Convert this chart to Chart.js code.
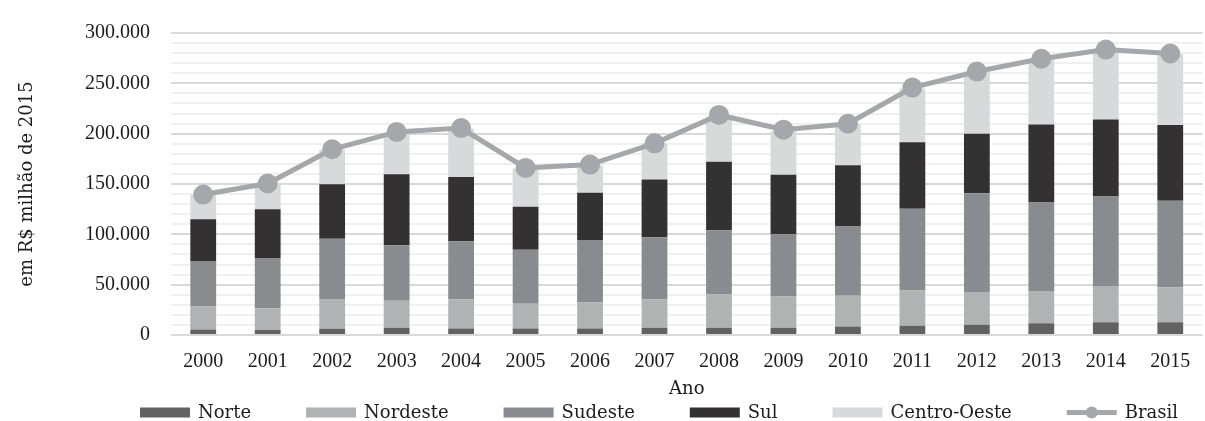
<!DOCTYPE html>
<html lang="pt-BR">
<head>
<meta charset="utf-8">
<title>Valor por região, 2000–2015</title>
<script src="https://cdn.jsdelivr.net/npm/chart.js@4"></script>
<style>
  html, body { margin: 0; padding: 0; background: #ffffff; overflow: hidden; }
  #wrap { position: relative; width: 1215px; height: 421px; }
</style>
</head>
<body>
<div id="wrap"><canvas id="chart"></canvas></div>
<script>
// Anos (eixo X)
const anos = ['2000','2001','2002','2003','2004','2005','2006','2007',
              '2008','2009','2010','2011','2012','2013','2014','2015'];

// Valores por região, em R$ milhão de 2015
const norte       = [5500, 4900, 6200, 7100, 6500, 6500, 6500, 7100, 7100, 7100, 8400, 9100, 10100, 11700, 12600, 12600];
const nordeste    = [22700, 21700, 29500, 27000, 28900, 24600, 25900, 28300, 33100, 31200, 30500, 35000, 32700, 32100, 36000, 34800];
const sudeste     = [45400, 49900, 60000, 55100, 57700, 53600, 62000, 61600, 63900, 61900, 68800, 81400, 98000, 87900, 88900, 85900];
const sul         = [41500, 48400, 54100, 70400, 63900, 42800, 47000, 57400, 68100, 59000, 61000, 65900, 59000, 77500, 76600, 75300];
const centroOeste = [24000, 24900, 34100, 40500, 48000, 37900, 26900, 36000, 45100, 43200, 40800, 53500, 61900, 65500, 68700, 70300];
const brasil      = [139500, 150500, 184500, 201700, 205600, 166000, 169300, 190400, 218600, 204000, 209800, 245800, 261700, 274400, 283500, 279600];

// Eixo Y: escala, passo das linhas auxiliares e rótulos principais
const yMax = 300000;
const yMinorStep = 10000;
const yMajorStep = 50000;

const fmt = v => String(v).replace(/\B(?=(\d{3})+(?!\d))/g, '.');

const TXT = '#1c1c1c';
const WORD_FONT = 'DejaVu Serif';
const NUM_FONT = 'Liberation Serif';

// Legenda desenhada sob o gráfico, com caixas largas e o marcador da linha
const bottomLegend = {
  id: 'bottomLegend',
  afterDraw(chart, args, o) {
    const ctx = chart.ctx;
    ctx.save();
    ctx.font = o.fontSize + 'px "' + o.fontFamily + '"';
    ctx.textBaseline = 'alphabetic';
    ctx.textAlign = 'left';
    let x = o.x;
    chart.data.datasets.forEach(ds => {
      if (ds.type === 'line') {
        ctx.strokeStyle = ds.borderColor;
        ctx.lineWidth = 5;
        ctx.beginPath();
        ctx.moveTo(x, o.markY);
        ctx.lineTo(x + o.boxW, o.markY);
        ctx.stroke();
        ctx.fillStyle = ds.pointBackgroundColor;
        ctx.beginPath();
        ctx.arc(x + o.boxW / 2, o.markY, 6, 0, Math.PI * 2);
        ctx.fill();
      } else {
        ctx.fillStyle = ds.backgroundColor;
        ctx.fillRect(x, o.markY - o.boxH / 2, o.boxW, o.boxH);
      }
      ctx.fillStyle = o.color;
      const tx = x + o.boxW + o.textGap;
      ctx.fillText(ds.label, tx, o.textY);
      x = tx + ctx.measureText(ds.label).width + o.itemGap;
    });
    ctx.restore();
  }
};

const ctx = document.getElementById('chart').getContext('2d');
new Chart(ctx, {
  data: {
    labels: anos,
    datasets: [
      { type: 'bar', label: 'Norte',        data: norte,       backgroundColor: '#626263', order: 2 },
      { type: 'bar', label: 'Nordeste',     data: nordeste,    backgroundColor: '#b1b2b4', order: 2 },
      { type: 'bar', label: 'Sudeste',      data: sudeste,     backgroundColor: '#8a8b8e', order: 2 },
      { type: 'bar', label: 'Sul',          data: sul,         backgroundColor: '#333132', order: 2 },
      { type: 'bar', label: 'Centro-Oeste', data: centroOeste, backgroundColor: '#d8d9da', order: 2 },
      { type: 'line', label: 'Brasil', data: brasil, stack: 'total',
        borderColor: '#a6a7aa', backgroundColor: '#a6a7aa',
        pointBackgroundColor: '#a6a7aa', pointBorderColor: '#a6a7aa',
        borderWidth: 5, pointRadius: 7.5, pointHoverRadius: 7.5,
        tension: 0, fill: false, order: 0 }
    ]
  },
  options: {
    responsive: true,
    maintainAspectRatio: false,
    animation: false,
    datasets: {
      bar: { categoryPercentage: 1.0, barPercentage: 0.4, borderWidth: 0 }
    },
    layout: { padding: { top: 26, right: 0, bottom: 0, left: 0 } },
    plugins: {
      legend: { display: false },
      tooltip: { enabled: false },
      bottomLegend: {
        x: 140, boxW: 50, boxH: 10, markY: 412.5, textGap: 8, itemGap: 55,
        textY: 418, fontSize: 18, fontFamily: WORD_FONT, color: TXT
      }
    },
    scales: {
      x: {
        stacked: true,
        offset: true,
        grid: { display: false, drawTicks: false },
        border: { display: false },
        ticks: { color: TXT, padding: 15, maxRotation: 0, autoSkip: false,
                 font: { family: NUM_FONT, size: 20 } },
        title: { display: true, text: 'Ano', color: TXT,
                 font: { family: WORD_FONT, size: 18 }, padding: { top: 0, bottom: 21 } },
        afterFit(scale) { scale.height = 86; scale.paddingLeft = 0; scale.paddingRight = 0; }
      },
      y: {
        stacked: true,
        min: 0,
        max: yMax,
        grid: {
          drawTicks: false,
          lineWidth: 2,
          color: c => (c.tick && c.tick.value % yMajorStep === 0) ? '#d9d9d9' : '#f0f0f0'
        },
        border: { display: false },
        ticks: {
          stepSize: yMinorStep,
          autoSkip: false,
          padding: 21,
          color: TXT,
          font: { family: NUM_FONT, size: 20 },
          callback: v => (v % yMajorStep === 0) ? fmt(v) : ''
        },
        title: { display: true, text: 'em R$ milhão de 2015', color: TXT,
                 font: { family: WORD_FONT, size: 18 }, padding: { top: 17, bottom: 0 } },
        afterFit(scale) { scale.width = 171; }
      }
    }
  },
  plugins: [bottomLegend]
});
</script>
</body>
</html>
